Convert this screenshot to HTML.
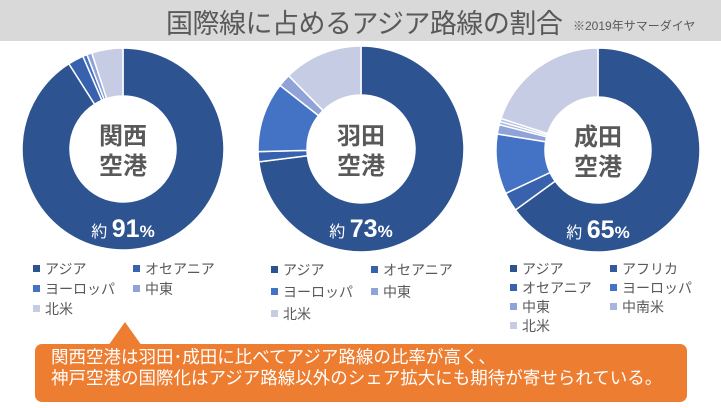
<!DOCTYPE html><html><head><meta charset="utf-8"><style>
body{margin:0;width:721px;height:408px;background:#fff;overflow:hidden;font-family:"Liberation Sans","Noto Sans CJK JP",sans-serif;position:relative}
.hdr{position:absolute;left:0;top:0;width:721px;height:41px;background:#d9d9d9}
.title{position:absolute;left:166px;top:2px;font-size:27px;color:#595959;letter-spacing:-0.5px}
.sub{position:absolute;left:573px;top:17px;font-size:12px;color:#595959}
.lg{position:absolute;font-size:14px;color:#595959;line-height:20px}
.lg span{position:absolute;white-space:nowrap}
.lg i{display:inline-block;width:7px;height:7px;margin-right:5px;vertical-align:2px}
.box{position:absolute;left:35px;top:344px;width:652px;height:58px;background:#ed7d31;border-radius:7px;color:#fff;font-size:17.5px;line-height:21px;padding:3px 0 0 16px;box-sizing:border-box;white-space:nowrap}
.tri{position:absolute;left:108px;top:322px;width:0;height:0;border-left:17px solid transparent;border-right:17px solid transparent;border-bottom:24px solid #ed7d31}
</style></head><body>
<div class="hdr"></div>
<div class="title">国際線に占めるアジア路線の割合</div>
<div class="sub">※2019年サマーダイヤ</div>
<svg id="s" width="721" height="408" style="position:absolute;left:0;top:0"></svg>
<div class="lg" style="left:33px;top:259px">
<span style="left:0;top:0"><i style="background:#2e5391"></i>アジア</span>
<span style="left:100px;top:0"><i style="background:#3862ae"></i>オセアニア</span>
<span style="left:0;top:20px"><i style="background:#4472c4"></i>ヨーロッパ</span>
<span style="left:100px;top:20px"><i style="background:#8fa3d8"></i>中東</span>
<span style="left:0;top:40px"><i style="background:#c6cce4"></i>北米</span></div>
<div class="lg" style="left:271px;top:260px">
<span style="left:0;top:0"><i style="background:#2e5391"></i>アジア</span>
<span style="left:100px;top:0"><i style="background:#3862ae"></i>オセアニア</span>
<span style="left:0;top:22px"><i style="background:#4472c4"></i>ヨーロッパ</span>
<span style="left:100px;top:22px"><i style="background:#8fa3d8"></i>中東</span>
<span style="left:0;top:44px"><i style="background:#c6cce4"></i>北米</span></div>
<div class="lg" style="left:510px;top:259px">
<span style="left:0;top:0"><i style="background:#2e5391"></i>アジア</span>
<span style="left:100px;top:0"><i style="background:#34599f"></i>アフリカ</span>
<span style="left:0;top:19px"><i style="background:#3862ae"></i>オセアニア</span>
<span style="left:100px;top:19px"><i style="background:#4472c4"></i>ヨーロッパ</span>
<span style="left:0;top:38px"><i style="background:#8fa3d8"></i>中東</span>
<span style="left:100px;top:38px"><i style="background:#a9b5dc"></i>中南米</span>
<span style="left:0;top:57px"><i style="background:#c6cce4"></i>北米</span></div>
<div class="tri"></div>
<div class="box">関西空港は羽田･成田に比べてアジア路線の比率が高く、<br>神戸空港の国際化はアジア路線以外のシェア拡大にも期待が寄せられている。</div>
<script>
var s=document.getElementById('s'),h='';
var C=['#2e5391','#3862ae','#4472c4','#8fa3d8','#c6cce4'];
function donut(cx,cy,R,r,data,label,pct){
 var a=0;
 data.forEach(function(d){
  var a0=a*2*Math.PI/100,a1=(a+d[0])*2*Math.PI/100;a+=d[0];
  function p(rr,t){return [cx+rr*Math.sin(t),cy-rr*Math.cos(t)];}
  var l=(a1-a0)>Math.PI?1:0,A=p(R,a0),B=p(R,a1),Cc=p(r,a1),D=p(r,a0);
  h+='<path d="M'+A+' A'+R+','+R+' 0 '+l+' 1 '+B+' L'+Cc+' A'+r+','+r+' 0 '+l+' 0 '+D+'Z" fill="'+d[1]+'" stroke="#fff" stroke-width="1.5"/>';
 });
 h+='<text x="'+cx+'" y="'+(cy-5)+'" font-size="24" font-weight="bold" fill="#595959" text-anchor="middle">'+label[0]+'</text>';
 h+='<text x="'+cx+'" y="'+(cy+25)+'" font-size="24" font-weight="bold" fill="#595959" text-anchor="middle">'+label[1]+'</text>';
 h+='<text x="'+cx+'" y="'+(cy+88)+'" fill="#fff" text-anchor="middle" font-weight="bold"><tspan font-size="16" font-weight="normal">約 </tspan><tspan font-size="25">'+pct+'</tspan><tspan font-size="17">%</tspan></text>';
}
donut(123,149,101,53,[[91,C[0]],[2.5,C[1]],[0.7,C[2]],[0.8,C[3]],[5,C[4]]],['関西','空港'],'91');
donut(361,149,103,54,[[73,C[0]],[1.6,C[1]],[11,C[2]],[2,C[3]],[12.4,C[4]]],['羽田','空港'],'73');
donut(598,150,102,53,[[65,C[0]],[3,C[1]],[9.5,C[2]],[1.5,C[3]],[0.5,'#a9b5dc'],[0.5,'#b5bfe0'],[20,C[4]]],['成田','空港'],'65');
s.innerHTML=h;
</script>
</body></html>
